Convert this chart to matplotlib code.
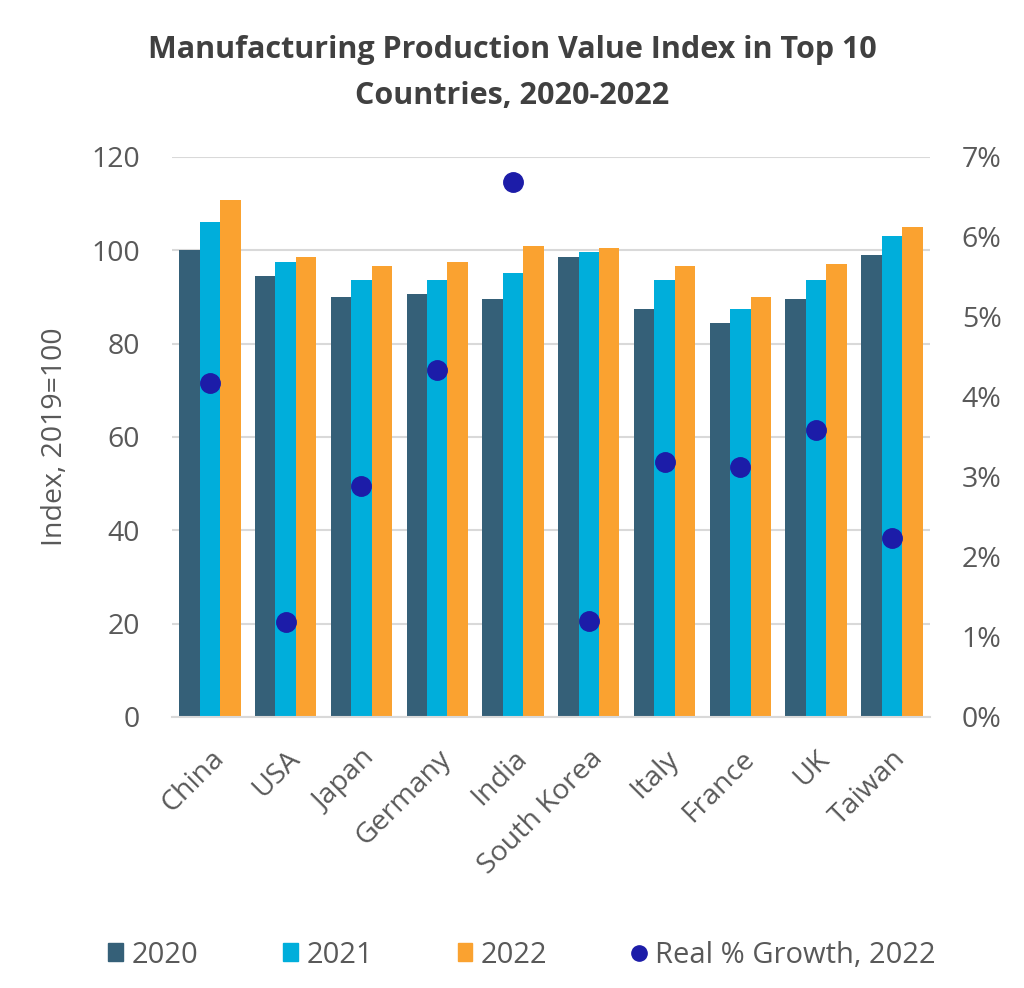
import matplotlib
matplotlib.use("Agg")
import matplotlib.pyplot as plt
import numpy as np
from matplotlib.ticker import FuncFormatter
from matplotlib.lines import Line2D
from matplotlib.patches import Patch

countries = ["China", "USA", "Japan", "Germany", "India", "South Korea",
             "Italy", "France", "UK", "Taiwan"]
idx_2020 = [100.1, 94.5, 90.0, 90.6, 89.6, 98.6, 87.4, 84.4, 89.6, 99.0]
idx_2021 = [106.1, 97.5, 93.6, 93.6, 95.1, 99.6, 93.6, 87.4, 93.6, 103.0]
idx_2022 = [110.8, 98.6, 96.6, 97.5, 101.0, 100.5, 96.6, 90.0, 97.0, 105.0]
growth_2022 = [4.17, 1.19, 2.89, 4.34, 6.69, 1.20, 3.19, 3.13, 3.59, 2.24]

c2020 = "#356078"
c2021 = "#00AEDB"
c2022 = "#FAA230"
cdot = "#1C1CA8"
gray = "#595959"

plt.rcParams['font.family'] = ['Open Sans', 'DejaVu Sans']

fig = plt.figure(figsize=(10.24, 9.88), dpi=100)
ax = fig.add_axes([0.168, 0.2743, 0.740, 0.5668])
ax2 = ax.twinx()

x = np.arange(len(countries))
w = 0.27
ax.bar(x - w, idx_2020, w, color=c2020, zorder=2)
ax.bar(x, idx_2021, w, color=c2021, zorder=2)
ax.bar(x + w, idx_2022, w, color=c2022, zorder=2)
ax2.plot(x, growth_2022, 'o', color=cdot, markersize=14, zorder=3)

ax.set_xlim(-0.5, len(countries) - 0.5)
ax.set_ylim(0, 120)
ax.set_yticks(range(0, 121, 20))
ax2.set_ylim(0, 7)
ax2.set_yticks(range(0, 8))
ax2.yaxis.set_major_formatter(FuncFormatter(lambda v, p: f"{int(v)}%"))

ax.yaxis.grid(True, color="#D9D9D9", linewidth=1.5, zorder=0)
ax.set_axisbelow(True)
for a in (ax, ax2):
    for s in a.spines.values():
        s.set_visible(False)
ax.spines['bottom'].set_visible(True)
ax.spines['bottom'].set_color("#D9D9D9")
ax.spines['bottom'].set_linewidth(1.5)

ax.tick_params(axis='y', length=0, labelsize=20.5, labelcolor=gray, pad=23)
ax2.tick_params(axis='y', length=0, labelsize=20.5, labelcolor=gray, pad=23)
ax.tick_params(axis='x', length=0, labelsize=20.5, labelcolor=gray, pad=20)
ax.set_xticks(x)
ax.set_xticklabels(countries, rotation=45, ha='right', rotation_mode='anchor')

ax.set_ylabel("Index, 2019=100", fontsize=20.5, color=gray, labelpad=16)

fig.text(0.5, 0.926, "Manufacturing Production Value Index in Top 10\nCountries, 2020-2022",
         ha='center', va='center', fontsize=22, fontweight='bold', color="#404040",
         linespacing=1.72)

handles = [Patch(color=c2020), Patch(color=c2021), Patch(color=c2022),
           Line2D([], [], marker='o', color=cdot, linestyle='None', markersize=11)]
labels = ["2020", "2021", "2022", "Real % Growth, 2022"]
fig.legend(handles, labels, loc='center', bbox_to_anchor=(0.51, 1 - 955 / 988),
           ncol=4, frameon=False, fontsize=21, labelcolor=gray,
           handlelength=0.5, handleheight=0.6, handletextpad=0.3, columnspacing=2.9)

fig.savefig("out.png", dpi=100)
